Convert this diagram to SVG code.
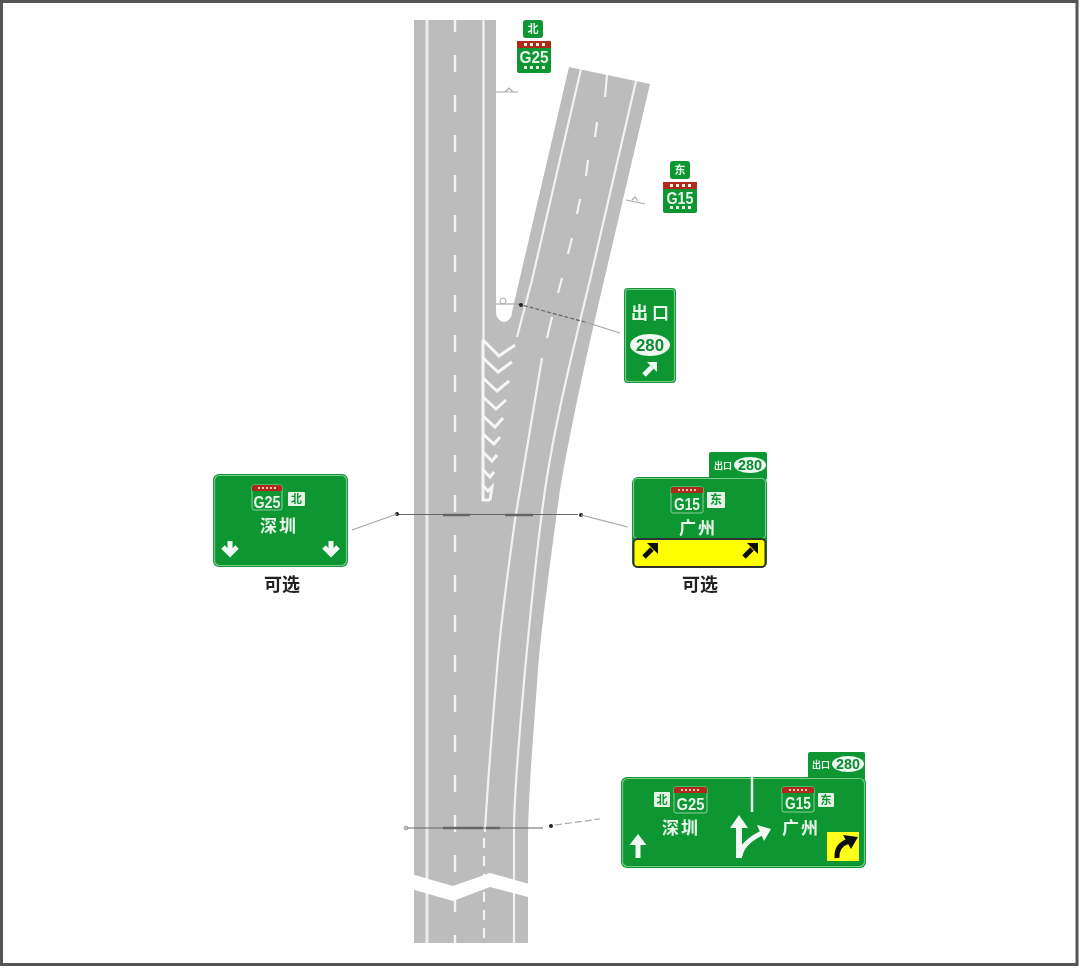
<svg xmlns="http://www.w3.org/2000/svg" xmlns:xlink="http://www.w3.org/1999/xlink" width="1080" height="968" viewBox="0 0 1080 968">
<style>
.road{fill:#bcbcbc}
.lane{fill:none;stroke:#f2f2f2;stroke-width:2.2}
.edge{fill:none;stroke:#ececec;stroke-width:3}
.dash{fill:none;stroke:#f4f4f4;stroke-width:2.4;stroke-dasharray:17 23;stroke-dashoffset:5}
.chev{fill:none;stroke:#f6f6f6;stroke-width:3}
.g{fill:#0a9632}
.bd{fill:none;stroke:#7cc98c;stroke-width:1.2}
.box{fill:none;stroke:#8fd09b;stroke-width:1}
.red{fill:#b02a1e}
.wb{fill:#e4f3e6}
.t{font-family:"Liberation Sans","Noto Sans CJK SC",sans-serif;font-weight:700;fill:#e8f6ea;text-anchor:middle}
.c{font-family:"Noto Sans CJK SC","Liberation Sans",sans-serif;font-weight:700;fill:#e8f6ea;text-anchor:middle}
.cg{font-family:"Noto Sans CJK SC","Liberation Sans",sans-serif;font-weight:700;fill:#0a9632;text-anchor:middle}
.n{font-family:"Liberation Sans","Noto Sans CJK SC",sans-serif;font-weight:700;fill:#0b8a30;text-anchor:middle}
.k{font-family:"Noto Sans CJK SC","Liberation Sans",sans-serif;font-weight:700;fill:#222;text-anchor:middle;font-size:18px}
.ov{fill:#eef8f0}
.w{fill:none;stroke:#f2faf3;stroke-width:5}
.wl{fill:none;stroke:#f2faf3;stroke-width:5}
.bk{fill:none;stroke:#111;stroke-width:5}
.gt{stroke:#666;stroke-width:1;fill:none}
.gth{stroke:#666;stroke-width:2.6;fill:none}
.pt{stroke:#a8a8a8;stroke-width:1.2;fill:none}
.dot{fill:#222}
</style>
<defs>
<filter id="soft" filterUnits="userSpaceOnUse" x="0" y="0" width="1080" height="968"><feGaussianBlur stdDeviation="0.6"/></filter>
<g id="adown"><path d="M0 -8V5" class="wl"/><path d="M-7 -2L0 5L7 -2" class="w"/></g>
<g id="aup"><path d="M0 12V-8" class="wl"/><path fill="#f2faf3" d="M-8.500 -1L0 -12L8.500 -1Z"/></g>
<g id="ane"><path d="M-6 6L2 -2" class="wl" stroke-width="4"/><path fill="#f2faf3" d="M-3 -7H7V3Z"/></g>
<g id="bne"><path d="M-6 6L2 -2" class="bk"/><path fill="#111" d="M-3 -8H8V3Z"/></g>
</defs>
<rect x="0" y="0" width="1080" height="968" fill="#fff"/>
<rect x="1.500" y="1.500" width="1075.500" height="963" fill="none" stroke="#555" stroke-width="3"/>

<g filter="url(#soft)">
<g id="road">
<path class="road" d="M414 20H496V312A8 10 0 0 0 512 312L569 67L650 84L603 285C590 340 572 420 560 490C553 540 541 630 538 670C533 740 528 800 528 840V943H414Z"/>
<path class="edge" d="M427 20V943"/>
<path class="lane" d="M483.500 20V340"/>
<path class="dash" d="M455 20V943"/>
<path class="lane" d="M581 69L532 280L517 337"/>
<path class="lane" d="M636 81L590 280C578 330 556 415 545 490C535 560 530 620 525 670C520 730 514 790 514 830V943"/>
<path class="lane" d="M607 75L605 97M597 122L595 137M588 160L586 176M580 199L577 214M572 238L568 254M562 278L558 293M552 317L547 338"/>
<path class="lane" d="M542 358C530 430 522 480 515 520C508 570 500 630 497 670C492 730 487 790 485 832"/>
<path class="lane" stroke-dasharray="10 8" d="M484 838V943"/>
<path class="chev" d="M483 340V500H490"/>
<path class="chev" d="M483 340L499 356L515 345M483 358L498 372L512 362M483 378L497 391L509 381M483 397L496 409L506 400M483 416L495 427L503 418M483 434L494 444L500 437M483 452L492 461L497 455M483 470L490 477L494 472M483 486L488 491L492 487L490 500"/>
<path d="M404 872L453 886L490 873L540 887V897L528 897L490 887L453 901L404 887Z" fill="#fff"/>
</g>

<g id="connectors">
<path class="pt" d="M496 92H518M505 92L509 88L513 92"/>
<path class="pt" d="M626 200L645 204M632 200L635 197L638 201"/>
<path class="pt" d="M496 304H518"/>
<circle cx="503" cy="301" r="3" fill="none" stroke="#aaa"/>
<path d="M518 304L585 322" stroke="#666" stroke-width="1.200" fill="none" stroke-dasharray="4 2"/>
<path class="pt" d="M585 322L620 333"/>
<circle class="dot" cx="521" cy="305" r="2"/>
<path class="gt" d="M396 514.500H578"/>
<path class="gth" d="M443 515H470M505 515H533"/>
<circle class="dot" cx="397" cy="514" r="2"/>
<circle class="dot" cx="581" cy="515" r="2"/>
<path class="pt" d="M352 530L397 514"/>
<path class="pt" d="M581 515L628 527"/>
<path class="gt" d="M405 828H543"/>
<path class="gth" d="M443 828H483M486 828H500"/>
<circle cx="406" cy="828" r="2" fill="none" stroke="#999"/>
<circle class="dot" cx="551" cy="826" r="2"/>
<path class="pt" stroke-dasharray="7 3" d="M555 825L600 819"/>
</g>

<g id="sign-g25-top">
<rect class="g" x="523" y="20" width="20" height="18" rx="3"/>
<text class="c" x="533" y="33" font-size="11">北</text>
<rect class="g" x="517" y="41" width="34" height="32" rx="2"/>
<rect class="red" x="517" y="41" width="34" height="7"/>
<path d="M524 44.500H545M524 67.500H545" stroke="#eaf6ec" stroke-width="3" stroke-dasharray="3 3" fill="none"/>
<text class="t" x="534" y="63" font-size="17" textLength="29" lengthAdjust="spacingAndGlyphs">G25</text>
</g>

<g id="sign-g15-top">
<rect class="g" x="670" y="161" width="20" height="18" rx="3"/>
<text class="c" x="680" y="174" font-size="11">东</text>
<rect class="g" x="663" y="182" width="34" height="31" rx="2"/>
<rect class="red" x="663" y="182" width="34" height="7"/>
<path d="M670 185.500H691M670 207.500H691" stroke="#eaf6ec" stroke-width="3" stroke-dasharray="3 3" fill="none"/>
<text class="t" x="680" y="204" font-size="17" textLength="27" lengthAdjust="spacingAndGlyphs">G15</text>
</g>

<g id="sign-exit">
<rect class="g" x="624" y="288" width="52" height="95" rx="4"/>
<rect class="bd" x="625.500" y="289.500" width="49" height="92" rx="3"/>
<text class="c" x="650" y="319" font-size="17" textLength="38">出口</text>
<ellipse class="ov" cx="650" cy="345" rx="20" ry="11"/>
<text class="n" x="650" y="351" font-size="17" textLength="28" lengthAdjust="spacingAndGlyphs">280</text>
<use xlink:href="#ane" href="#ane" transform="translate(650 369)"/>
</g>

<g id="sign-left">
<rect class="g" x="213" y="474" width="135" height="93" rx="6"/>
<rect class="bd" x="214.500" y="475.500" width="132" height="90" rx="5"/>
<rect class="box" x="252" y="485" width="30" height="25" rx="2"/>
<path class="red" d="M252 491V487Q252 485 254 485H280Q282 485 282 487V491Z"/>
<path d="M258 488H276" stroke="#f2c6c0" stroke-width="2" stroke-dasharray="2 2" fill="none"/>
<text class="t" x="267" y="508" font-size="17" textLength="27" lengthAdjust="spacingAndGlyphs">G25</text>
<rect class="wb" x="288" y="492" width="17" height="14" rx="1"/>
<text class="cg" x="296.500" y="503" font-size="11">北</text>
<text class="c" x="278" y="532" font-size="17" textLength="36">深圳</text>
<use xlink:href="#adown" href="#adown" transform="translate(230 549)"/>
<use xlink:href="#adown" href="#adown" transform="translate(331 549)"/>
<text class="k" x="282" y="591">可选</text>
</g>

<g id="sign-right">
<rect class="g" x="709" y="452" width="58" height="28" rx="2"/>
<text class="c" x="723" y="469" font-size="9">出口</text>
<ellipse class="ov" cx="750" cy="465" rx="16" ry="8"/>
<text class="n" x="750" y="470" font-size="14" textLength="24" lengthAdjust="spacingAndGlyphs">280</text>
<rect class="g" x="632" y="477" width="135" height="91" rx="6"/>
<rect class="bd" x="633.500" y="478.500" width="132" height="60" rx="4"/>
<rect x="633.500" y="539" width="132" height="28" rx="4" fill="#ffff00" stroke="#333" stroke-width="2"/>
<rect class="box" x="671" y="487" width="32" height="26" rx="2"/>
<path class="red" d="M671 493V489Q671 487 673 487H701Q703 487 703 489V493Z"/>
<path d="M678 490H696" stroke="#f2c6c0" stroke-width="2" stroke-dasharray="2 2" fill="none"/>
<text class="t" x="687" y="510" font-size="17" textLength="26" lengthAdjust="spacingAndGlyphs">G15</text>
<rect class="wb" x="707" y="492" width="18" height="16" rx="1"/>
<text class="cg" x="716" y="504" font-size="12">东</text>
<text class="c" x="697" y="534" font-size="17" textLength="36">广州</text>
<use xlink:href="#bne" href="#bne" transform="translate(650 551)"/>
<use xlink:href="#bne" href="#bne" transform="translate(750 551)"/>
<text class="k" x="700" y="591">可选</text>
</g>

<g id="sign-bottom">
<rect class="g" x="808" y="752" width="57" height="28" rx="2"/>
<text class="c" x="821" y="768" font-size="9">出口</text>
<ellipse class="ov" cx="848" cy="764" rx="16" ry="8"/>
<text class="n" x="848" y="769" font-size="14" textLength="24" lengthAdjust="spacingAndGlyphs">280</text>
<rect class="g" x="621" y="777" width="245" height="91" rx="6"/>
<rect class="bd" x="622.500" y="778.500" width="242" height="88" rx="5"/>
<path d="M752 777V812" stroke="#e8f6ea" stroke-width="2.500"/>
<rect class="wb" x="654" y="792" width="16" height="15" rx="1"/>
<text class="cg" x="662" y="804" font-size="11">北</text>
<rect class="box" x="674" y="787" width="33" height="26" rx="2"/>
<path class="red" d="M674 793V789Q674 787 676 787H705Q707 787 707 789V793Z"/>
<path d="M681 790H700" stroke="#f2c6c0" stroke-width="2" stroke-dasharray="2 2" fill="none"/>
<text class="t" x="690.500" y="810" font-size="17" textLength="28" lengthAdjust="spacingAndGlyphs">G25</text>
<text class="c" x="680" y="834" font-size="17" textLength="36">深圳</text>
<rect class="box" x="782" y="787" width="32" height="25" rx="2"/>
<path class="red" d="M782 793V789Q782 787 784 787H812Q814 787 814 789V793Z"/>
<path d="M789 790H807" stroke="#f2c6c0" stroke-width="2" stroke-dasharray="2 2" fill="none"/>
<text class="t" x="798" y="809" font-size="17" textLength="26" lengthAdjust="spacingAndGlyphs">G15</text>
<rect class="wb" x="818" y="793" width="16" height="14" rx="1"/>
<text class="cg" x="826" y="804" font-size="11">东</text>
<text class="c" x="800" y="834" font-size="17" textLength="36">广州</text>
<use xlink:href="#aup" href="#aup" transform="translate(638 846)"/>
<path class="wl" style="stroke-width:6" d="M739 858V825"/>
<path fill="#f2faf3" d="M730 828L739 815L748 828Z"/>
<path class="wl" d="M740 856Q742 842 764 832"/>
<path fill="#f2faf3" d="M757 825L771 829L764 841Z"/>
<rect x="827" y="832" width="32" height="29" fill="#ffff1a"/>
<path class="bk" d="M837 858Q836 845 849 841"/>
<path fill="#111" d="M843 835L858 837L851 849Z"/>
</g>
</g>
</svg>
